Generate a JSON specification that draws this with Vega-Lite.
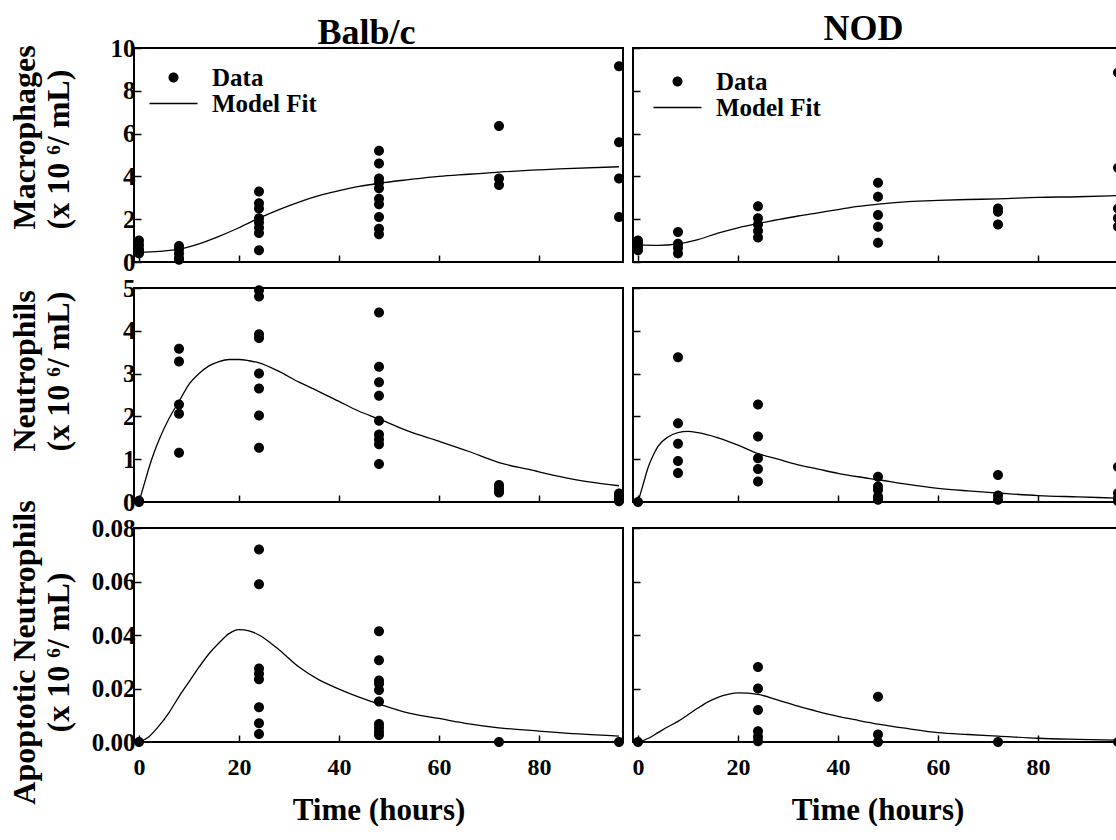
{
"$schema":"https://vega.github.io/schema/vega-lite/v6.json",
"background":"white",
"padding":{"left":6,"top":10,"right":0,"bottom":0},
"config":{
 "font":"Liberation Serif",
 "view":{"stroke":"black","strokeWidth":2},
 "axis":{"domain":false,"grid":false,"tickColor":"black","tickWidth":1.5,"tickSize":-7,"labelFont":"Liberation Serif","labelFontSize":25,"labelFontWeight":"bold","labelColor":"black","labelFlush":false,"labelOverlap":false,"titleFont":"Liberation Serif","titleFontWeight":"bold","titleColor":"black","titleFontSize":32},
 "title":{"font":"Liberation Serif","fontSize":36,"fontWeight":"bold","color":"black","baseline":"alphabetic","offset":9,"frame":"group"},
 "legend":{"orient":"none","title":null,"labelFont":"Liberation Serif","labelFontSize":25,"labelFontWeight":"bold","labelColor":"black","labelOffset":26,"rowPadding":-2,"padding":0,"symbolSize":400,"symbolStrokeColor":"black","symbolStrokeWidth":0,"symbolFillColor":"black","labelLimit":400}
},
"datasets":{
"pts":[
{"s":"B","c":"M","t":0,"v":1.0},{"s":"B","c":"M","t":0,"v":0.8},{"s":"B","c":"M","t":0,"v":0.6},{"s":"B","c":"M","t":0,"v":0.5},{"s":"B","c":"M","t":0,"v":0.4},
{"s":"B","c":"M","t":8,"v":0.75},{"s":"B","c":"M","t":8,"v":0.6},{"s":"B","c":"M","t":8,"v":0.4},{"s":"B","c":"M","t":8,"v":0.2},{"s":"B","c":"M","t":8,"v":0.1},
{"s":"B","c":"M","t":24,"v":3.3},{"s":"B","c":"M","t":24,"v":2.75},{"s":"B","c":"M","t":24,"v":2.5},{"s":"B","c":"M","t":24,"v":2.05},{"s":"B","c":"M","t":24,"v":1.85},{"s":"B","c":"M","t":24,"v":1.6},{"s":"B","c":"M","t":24,"v":1.35},{"s":"B","c":"M","t":24,"v":0.55},
{"s":"B","c":"M","t":48,"v":5.2},{"s":"B","c":"M","t":48,"v":4.6},{"s":"B","c":"M","t":48,"v":3.9},{"s":"B","c":"M","t":48,"v":3.7},{"s":"B","c":"M","t":48,"v":3.45},{"s":"B","c":"M","t":48,"v":2.95},{"s":"B","c":"M","t":48,"v":2.7},{"s":"B","c":"M","t":48,"v":2.1},{"s":"B","c":"M","t":48,"v":1.55},{"s":"B","c":"M","t":48,"v":1.3},
{"s":"B","c":"M","t":72,"v":6.35},{"s":"B","c":"M","t":72,"v":3.9},{"s":"B","c":"M","t":72,"v":3.6},
{"s":"B","c":"M","t":96,"v":9.15},{"s":"B","c":"M","t":96,"v":5.6},{"s":"B","c":"M","t":96,"v":3.9},{"s":"B","c":"M","t":96,"v":2.1},
{"s":"N","c":"M","t":0,"v":1.0},{"s":"N","c":"M","t":0,"v":0.85},{"s":"N","c":"M","t":0,"v":0.7},{"s":"N","c":"M","t":0,"v":0.55},
{"s":"N","c":"M","t":8,"v":1.4},{"s":"N","c":"M","t":8,"v":0.85},{"s":"N","c":"M","t":8,"v":0.65},{"s":"N","c":"M","t":8,"v":0.4},
{"s":"N","c":"M","t":24,"v":2.6},{"s":"N","c":"M","t":24,"v":2.05},{"s":"N","c":"M","t":24,"v":1.75},{"s":"N","c":"M","t":24,"v":1.45},{"s":"N","c":"M","t":24,"v":1.15},
{"s":"N","c":"M","t":48,"v":3.7},{"s":"N","c":"M","t":48,"v":3.05},{"s":"N","c":"M","t":48,"v":2.2},{"s":"N","c":"M","t":48,"v":1.65},{"s":"N","c":"M","t":48,"v":0.9},
{"s":"N","c":"M","t":72,"v":2.5},{"s":"N","c":"M","t":72,"v":2.35},{"s":"N","c":"M","t":72,"v":1.75},
{"s":"N","c":"M","t":96,"v":8.85},{"s":"N","c":"M","t":96,"v":4.4},{"s":"N","c":"M","t":96,"v":2.5},{"s":"N","c":"M","t":96,"v":2.05},{"s":"N","c":"M","t":96,"v":1.65},
{"s":"B","c":"N","t":0,"v":0.03},{"s":"B","c":"N","t":0,"v":0.0},
{"s":"B","c":"N","t":8,"v":3.58},{"s":"B","c":"N","t":8,"v":3.28},{"s":"B","c":"N","t":8,"v":2.28},{"s":"B","c":"N","t":8,"v":2.06},{"s":"B","c":"N","t":8,"v":1.15},
{"s":"B","c":"N","t":24,"v":4.95},{"s":"B","c":"N","t":24,"v":4.8},{"s":"B","c":"N","t":24,"v":3.92},{"s":"B","c":"N","t":24,"v":3.83},{"s":"B","c":"N","t":24,"v":3.0},{"s":"B","c":"N","t":24,"v":2.65},{"s":"B","c":"N","t":24,"v":2.02},{"s":"B","c":"N","t":24,"v":1.27},
{"s":"B","c":"N","t":48,"v":4.43},{"s":"B","c":"N","t":48,"v":3.16},{"s":"B","c":"N","t":48,"v":2.8},{"s":"B","c":"N","t":48,"v":2.48},{"s":"B","c":"N","t":48,"v":1.9},{"s":"B","c":"N","t":48,"v":1.58},{"s":"B","c":"N","t":48,"v":1.46},{"s":"B","c":"N","t":48,"v":1.35},{"s":"B","c":"N","t":48,"v":0.89},
{"s":"B","c":"N","t":72,"v":0.4},{"s":"B","c":"N","t":72,"v":0.33},{"s":"B","c":"N","t":72,"v":0.27},{"s":"B","c":"N","t":72,"v":0.22},
{"s":"B","c":"N","t":96,"v":0.2},{"s":"B","c":"N","t":96,"v":0.15},{"s":"B","c":"N","t":96,"v":0.1},{"s":"B","c":"N","t":96,"v":0.05},{"s":"B","c":"N","t":96,"v":0.02},
{"s":"N","c":"N","t":0,"v":0.0},
{"s":"N","c":"N","t":8,"v":3.38},{"s":"N","c":"N","t":8,"v":1.84},{"s":"N","c":"N","t":8,"v":1.36},{"s":"N","c":"N","t":8,"v":0.96},{"s":"N","c":"N","t":8,"v":0.68},
{"s":"N","c":"N","t":24,"v":2.28},{"s":"N","c":"N","t":24,"v":1.53},{"s":"N","c":"N","t":24,"v":1.02},{"s":"N","c":"N","t":24,"v":0.77},{"s":"N","c":"N","t":24,"v":0.48},
{"s":"N","c":"N","t":48,"v":0.59},{"s":"N","c":"N","t":48,"v":0.36},{"s":"N","c":"N","t":48,"v":0.28},{"s":"N","c":"N","t":48,"v":0.13},{"s":"N","c":"N","t":48,"v":0.05},
{"s":"N","c":"N","t":72,"v":0.63},{"s":"N","c":"N","t":72,"v":0.15},{"s":"N","c":"N","t":72,"v":0.05},
{"s":"N","c":"N","t":96,"v":0.82},{"s":"N","c":"N","t":96,"v":0.21},{"s":"N","c":"N","t":96,"v":0.09},{"s":"N","c":"N","t":96,"v":0.02},
{"s":"B","c":"A","t":0,"v":0.0},
{"s":"B","c":"A","t":24,"v":0.072},{"s":"B","c":"A","t":24,"v":0.059},{"s":"B","c":"A","t":24,"v":0.0275},{"s":"B","c":"A","t":24,"v":0.0255},{"s":"B","c":"A","t":24,"v":0.0235},{"s":"B","c":"A","t":24,"v":0.013},{"s":"B","c":"A","t":24,"v":0.007},{"s":"B","c":"A","t":24,"v":0.003},
{"s":"B","c":"A","t":48,"v":0.0414},{"s":"B","c":"A","t":48,"v":0.0306},{"s":"B","c":"A","t":48,"v":0.023},{"s":"B","c":"A","t":48,"v":0.0218},{"s":"B","c":"A","t":48,"v":0.0194},{"s":"B","c":"A","t":48,"v":0.0151},{"s":"B","c":"A","t":48,"v":0.0067},{"s":"B","c":"A","t":48,"v":0.0053},{"s":"B","c":"A","t":48,"v":0.0038},{"s":"B","c":"A","t":48,"v":0.0026},
{"s":"B","c":"A","t":72,"v":0.0},{"s":"B","c":"A","t":96,"v":0.0},
{"s":"N","c":"A","t":0,"v":0.0},
{"s":"N","c":"A","t":24,"v":0.028},{"s":"N","c":"A","t":24,"v":0.02},{"s":"N","c":"A","t":24,"v":0.012},{"s":"N","c":"A","t":24,"v":0.004},{"s":"N","c":"A","t":24,"v":0.002},{"s":"N","c":"A","t":24,"v":0.0003},
{"s":"N","c":"A","t":48,"v":0.0169},{"s":"N","c":"A","t":48,"v":0.0028},{"s":"N","c":"A","t":48,"v":0.0},
{"s":"N","c":"A","t":72,"v":0.0},{"s":"N","c":"A","t":96,"v":0.0}
],
"fit":[
{"s":"B","c":"M","t":0,"v":0.45},{"s":"B","c":"M","t":4,"v":0.5},{"s":"B","c":"M","t":8,"v":0.6},{"s":"B","c":"M","t":12,"v":0.85},{"s":"B","c":"M","t":16,"v":1.2},{"s":"B","c":"M","t":20,"v":1.6},{"s":"B","c":"M","t":24,"v":2.05},{"s":"B","c":"M","t":28,"v":2.45},{"s":"B","c":"M","t":32,"v":2.8},{"s":"B","c":"M","t":36,"v":3.1},{"s":"B","c":"M","t":40,"v":3.33},{"s":"B","c":"M","t":44,"v":3.53},{"s":"B","c":"M","t":48,"v":3.68},{"s":"B","c":"M","t":54,"v":3.85},{"s":"B","c":"M","t":60,"v":4.0},{"s":"B","c":"M","t":66,"v":4.1},{"s":"B","c":"M","t":72,"v":4.2},{"s":"B","c":"M","t":84,"v":4.35},{"s":"B","c":"M","t":96,"v":4.45},
{"s":"N","c":"M","t":0,"v":0.8},{"s":"N","c":"M","t":4,"v":0.78},{"s":"N","c":"M","t":8,"v":0.85},{"s":"N","c":"M","t":12,"v":1.05},{"s":"N","c":"M","t":16,"v":1.35},{"s":"N","c":"M","t":20,"v":1.6},{"s":"N","c":"M","t":24,"v":1.8},{"s":"N","c":"M","t":28,"v":1.98},{"s":"N","c":"M","t":32,"v":2.15},{"s":"N","c":"M","t":36,"v":2.3},{"s":"N","c":"M","t":40,"v":2.45},{"s":"N","c":"M","t":44,"v":2.6},{"s":"N","c":"M","t":48,"v":2.7},{"s":"N","c":"M","t":54,"v":2.82},{"s":"N","c":"M","t":60,"v":2.88},{"s":"N","c":"M","t":66,"v":2.92},{"s":"N","c":"M","t":72,"v":2.95},{"s":"N","c":"M","t":80,"v":3.02},{"s":"N","c":"M","t":88,"v":3.05},{"s":"N","c":"M","t":96,"v":3.1},
{"s":"B","c":"N","t":0,"v":0},{"s":"B","c":"N","t":1,"v":0.4},{"s":"B","c":"N","t":2,"v":0.8},{"s":"B","c":"N","t":3,"v":1.15},{"s":"B","c":"N","t":4,"v":1.45},{"s":"B","c":"N","t":6,"v":1.95},{"s":"B","c":"N","t":8,"v":2.35},{"s":"B","c":"N","t":10,"v":2.75},{"s":"B","c":"N","t":12,"v":3.0},{"s":"B","c":"N","t":14,"v":3.18},{"s":"B","c":"N","t":16,"v":3.28},{"s":"B","c":"N","t":18,"v":3.33},{"s":"B","c":"N","t":20,"v":3.33},{"s":"B","c":"N","t":22,"v":3.3},{"s":"B","c":"N","t":24,"v":3.25},{"s":"B","c":"N","t":28,"v":3.05},{"s":"B","c":"N","t":32,"v":2.8},{"s":"B","c":"N","t":36,"v":2.58},{"s":"B","c":"N","t":40,"v":2.35},{"s":"B","c":"N","t":44,"v":2.12},{"s":"B","c":"N","t":48,"v":1.94},{"s":"B","c":"N","t":54,"v":1.65},{"s":"B","c":"N","t":60,"v":1.42},{"s":"B","c":"N","t":66,"v":1.18},{"s":"B","c":"N","t":72,"v":0.92},{"s":"B","c":"N","t":78,"v":0.76},{"s":"B","c":"N","t":84,"v":0.6},{"s":"B","c":"N","t":90,"v":0.47},{"s":"B","c":"N","t":96,"v":0.38},
{"s":"N","c":"N","t":0,"v":0},{"s":"N","c":"N","t":1,"v":0.4},{"s":"N","c":"N","t":2,"v":0.8},{"s":"N","c":"N","t":3,"v":1.08},{"s":"N","c":"N","t":4,"v":1.3},{"s":"N","c":"N","t":6,"v":1.52},{"s":"N","c":"N","t":8,"v":1.62},{"s":"N","c":"N","t":10,"v":1.65},{"s":"N","c":"N","t":12,"v":1.62},{"s":"N","c":"N","t":16,"v":1.5},{"s":"N","c":"N","t":20,"v":1.33},{"s":"N","c":"N","t":24,"v":1.13},{"s":"N","c":"N","t":28,"v":1.0},{"s":"N","c":"N","t":32,"v":0.87},{"s":"N","c":"N","t":36,"v":0.77},{"s":"N","c":"N","t":40,"v":0.67},{"s":"N","c":"N","t":44,"v":0.59},{"s":"N","c":"N","t":48,"v":0.52},{"s":"N","c":"N","t":54,"v":0.41},{"s":"N","c":"N","t":60,"v":0.32},{"s":"N","c":"N","t":66,"v":0.26},{"s":"N","c":"N","t":72,"v":0.21},{"s":"N","c":"N","t":80,"v":0.15},{"s":"N","c":"N","t":88,"v":0.12},{"s":"N","c":"N","t":96,"v":0.09},
{"s":"B","c":"A","t":0,"v":0},{"s":"B","c":"A","t":2,"v":0.002},{"s":"B","c":"A","t":4,"v":0.006},{"s":"B","c":"A","t":6,"v":0.011},{"s":"B","c":"A","t":8,"v":0.017},{"s":"B","c":"A","t":10,"v":0.0225},{"s":"B","c":"A","t":12,"v":0.028},{"s":"B","c":"A","t":14,"v":0.033},{"s":"B","c":"A","t":16,"v":0.037},{"s":"B","c":"A","t":18,"v":0.0405},{"s":"B","c":"A","t":20,"v":0.042},{"s":"B","c":"A","t":22,"v":0.0415},{"s":"B","c":"A","t":24,"v":0.04},{"s":"B","c":"A","t":26,"v":0.0375},{"s":"B","c":"A","t":28,"v":0.0345},{"s":"B","c":"A","t":32,"v":0.028},{"s":"B","c":"A","t":36,"v":0.0232},{"s":"B","c":"A","t":40,"v":0.0198},{"s":"B","c":"A","t":44,"v":0.0168},{"s":"B","c":"A","t":48,"v":0.0142},{"s":"B","c":"A","t":54,"v":0.0108},{"s":"B","c":"A","t":60,"v":0.0088},{"s":"B","c":"A","t":66,"v":0.0068},{"s":"B","c":"A","t":72,"v":0.0053},{"s":"B","c":"A","t":80,"v":0.0041},{"s":"B","c":"A","t":88,"v":0.003},{"s":"B","c":"A","t":96,"v":0.0022},
{"s":"N","c":"A","t":0,"v":0},{"s":"N","c":"A","t":2,"v":0.0013},{"s":"N","c":"A","t":4,"v":0.0035},{"s":"N","c":"A","t":6,"v":0.0057},{"s":"N","c":"A","t":8,"v":0.0077},{"s":"N","c":"A","t":10,"v":0.0102},{"s":"N","c":"A","t":12,"v":0.0127},{"s":"N","c":"A","t":14,"v":0.015},{"s":"N","c":"A","t":16,"v":0.0167},{"s":"N","c":"A","t":18,"v":0.0178},{"s":"N","c":"A","t":20,"v":0.0184},{"s":"N","c":"A","t":22,"v":0.0183},{"s":"N","c":"A","t":24,"v":0.0178},{"s":"N","c":"A","t":28,"v":0.0157},{"s":"N","c":"A","t":32,"v":0.0134},{"s":"N","c":"A","t":36,"v":0.0114},{"s":"N","c":"A","t":40,"v":0.0096},{"s":"N","c":"A","t":44,"v":0.0081},{"s":"N","c":"A","t":48,"v":0.0067},{"s":"N","c":"A","t":54,"v":0.005},{"s":"N","c":"A","t":60,"v":0.0035},{"s":"N","c":"A","t":66,"v":0.0028},{"s":"N","c":"A","t":72,"v":0.0022},{"s":"N","c":"A","t":80,"v":0.0014},{"s":"N","c":"A","t":88,"v":0.001},{"s":"N","c":"A","t":96,"v":0.0007}
]
},
"columns":2,
"spacing":{"row":26,"column":10},
"bounds":"flush",
"resolve":{"scale":{"shape":"independent"},"legend":{"shape":"independent"}},
"concat":[
{
 "width":489,"height":214,
 "title":{"text":"Balb/c","dx":-12,"dy":25},
 "encoding":{
  "x":{"field":"t","type":"quantitative","scale":{"domain":[-1,96.8],"nice":false,"zero":false},"axis":{"values":[0,20,40,60,80],"labels":false,"title":null}},
  "y":{"field":"v","type":"quantitative","scale":{"domain":[0,10],"nice":false},"axis":{"values":[0,2,4,6,8,10],"format":"d","labelFont":"Liberation Serif","labelFontSize":25,"labelFontWeight":"bold","labelPadding":6,"title":["Macrophages","(x 10 ⁶/ mL)"],"titleFont":"Liberation Serif","titleFontSize":32,"titleFontWeight":"bold","titleAngle":-90,"titleAlign":"left","titleBaseline":"bottom","titleLineHeight":34,"titleX":-93,"titleY":181}}
 },
 "layer":[
  {"data":{"name":"fit"},"transform":[{"filter":"datum.s=='B'&&datum.c=='M'"}],"mark":{"type":"line","color":"black","strokeWidth":1.3,"interpolate":"monotone"}},
  {"data":{"name":"pts"},"transform":[{"filter":"datum.s=='B'&&datum.c=='M'"}],"mark":{"type":"point","filled":true,"color":"black","opacity":1,"size":400},
   "encoding":{"shape":{"datum":"Data","scale":{"domain":["Data","Model Fit"],"range":["M0,-0.5A0.5,0.5,0,1,1,0,0.5A0.5,0.5,0,1,1,0,-0.5Z","M-2.4,-0.065H2.4V0.065H-2.4Z"]},"legend":{"legendX":27,"legendY":17,"encode":{"symbols":{"update":{"fill":{"value":"black"},"fillOpacity":{"value":1},"opacity":{"value":1}}}}}}}}
 ]
},
{
 "width":489,"height":214,
 "title":{"text":"NOD","dx":-14,"dy":10},
 "encoding":{
  "x":{"field":"t","type":"quantitative","scale":{"domain":[-1,96.8],"nice":false,"zero":false},"axis":{"values":[0,20,40,60,80],"labels":false,"title":null}},
  "y":{"field":"v","type":"quantitative","scale":{"domain":[0,10],"nice":false},"axis":{"values":[0,2,4,6,8,10],"labels":false,"title":null}}
 },
 "layer":[
  {"data":{"name":"fit"},"transform":[{"filter":"datum.s=='N'&&datum.c=='M'"}],"mark":{"type":"line","color":"black","strokeWidth":1.3,"interpolate":"monotone"}},
  {"data":{"name":"pts"},"transform":[{"filter":"datum.s=='N'&&datum.c=='M'"}],"mark":{"type":"point","filled":true,"color":"black","opacity":1,"size":400},
   "encoding":{"shape":{"datum":"Data","scale":{"domain":["Data","Model Fit"],"range":["M0,-0.5A0.5,0.5,0,1,1,0,0.5A0.5,0.5,0,1,1,0,-0.5Z","M-2.4,-0.065H2.4V0.065H-2.4Z"]},"legend":{"legendX":32,"legendY":21,"encode":{"symbols":{"update":{"fill":{"value":"black"},"fillOpacity":{"value":1},"opacity":{"value":1}}}}}}}}
 ]
},
{
 "width":489,"height":214,
 "encoding":{
  "x":{"field":"t","type":"quantitative","scale":{"domain":[-1,96.8],"nice":false,"zero":false},"axis":{"values":[0,20,40,60,80],"labels":false,"title":null}},
  "y":{"field":"v","type":"quantitative","scale":{"domain":[0,5],"nice":false},"axis":{"values":[0,1,2,3,4,5],"format":"d","labelFont":"Liberation Serif","labelFontSize":25,"labelFontWeight":"bold","labelPadding":6,"title":["Neutrophils","(x 10 ⁶/ mL)"],"titleFont":"Liberation Serif","titleFontSize":32,"titleFontWeight":"bold","titleAngle":-90,"titleAlign":"left","titleBaseline":"bottom","titleLineHeight":34,"titleX":-93,"titleY":163}}
 },
 "layer":[
  {"data":{"name":"fit"},"transform":[{"filter":"datum.s=='B'&&datum.c=='N'"}],"mark":{"type":"line","color":"black","strokeWidth":1.3,"interpolate":"monotone"}},
  {"data":{"name":"pts"},"transform":[{"filter":"datum.s=='B'&&datum.c=='N'"}],"mark":{"type":"point","filled":true,"color":"black","opacity":1,"size":400,"shape":"M0,-0.5A0.5,0.5,0,1,1,0,0.5A0.5,0.5,0,1,1,0,-0.5Z"}}
 ]
},
{
 "width":489,"height":214,
 "encoding":{
  "x":{"field":"t","type":"quantitative","scale":{"domain":[-1,96.8],"nice":false,"zero":false},"axis":{"values":[0,20,40,60,80],"labels":false,"title":null}},
  "y":{"field":"v","type":"quantitative","scale":{"domain":[0,5],"nice":false},"axis":{"values":[0,1,2,3,4,5],"labels":false,"title":null}}
 },
 "layer":[
  {"data":{"name":"fit"},"transform":[{"filter":"datum.s=='N'&&datum.c=='N'"}],"mark":{"type":"line","color":"black","strokeWidth":1.3,"interpolate":"monotone"}},
  {"data":{"name":"pts"},"transform":[{"filter":"datum.s=='N'&&datum.c=='N'"}],"mark":{"type":"point","filled":true,"color":"black","opacity":1,"size":400,"shape":"M0,-0.5A0.5,0.5,0,1,1,0,0.5A0.5,0.5,0,1,1,0,-0.5Z"}}
 ]
},
{
 "width":489,"height":214,
 "encoding":{
  "x":{"field":"t","type":"quantitative","scale":{"domain":[-1,96.8],"nice":false,"zero":false},"axis":{"values":[0,20,40,60,80],"labelFont":"Liberation Serif","labelFontSize":24,"labelFontWeight":"bold","labelPadding":20,"title":"Time (hours)","titleFont":"Liberation Serif","titleFontSize":31,"titleFontWeight":"bold","titlePadding":16}},
  "y":{"field":"v","type":"quantitative","scale":{"domain":[0,0.08],"nice":false},"axis":{"values":[0,0.02,0.04,0.06,0.08],"format":".2f","labelFont":"Liberation Serif","labelFontSize":25,"labelFontWeight":"bold","labelPadding":6,"title":["Apoptotic Neutrophils","(x 10 ⁶/ mL)"],"titleFont":"Liberation Serif","titleFontSize":32,"titleFontWeight":"bold","titleAngle":-90,"titleAlign":"center","titleBaseline":"bottom","titleLineHeight":34,"titleX":-93,"titleY":124}}
 },
 "layer":[
  {"data":{"name":"fit"},"transform":[{"filter":"datum.s=='B'&&datum.c=='A'"}],"mark":{"type":"line","color":"black","strokeWidth":1.3,"interpolate":"monotone"}},
  {"data":{"name":"pts"},"transform":[{"filter":"datum.s=='B'&&datum.c=='A'"}],"mark":{"type":"point","filled":true,"color":"black","opacity":1,"size":400,"shape":"M0,-0.5A0.5,0.5,0,1,1,0,0.5A0.5,0.5,0,1,1,0,-0.5Z"}}
 ]
},
{
 "width":489,"height":214,
 "encoding":{
  "x":{"field":"t","type":"quantitative","scale":{"domain":[-1,96.8],"nice":false,"zero":false},"axis":{"values":[0,20,40,60,80],"labelFont":"Liberation Serif","labelFontSize":24,"labelFontWeight":"bold","labelPadding":20,"title":"Time (hours)","titleFont":"Liberation Serif","titleFontSize":31,"titleFontWeight":"bold","titlePadding":16}},
  "y":{"field":"v","type":"quantitative","scale":{"domain":[0,0.08],"nice":false},"axis":{"values":[0,0.02,0.04,0.06,0.08],"labels":false,"title":null}}
 },
 "layer":[
  {"data":{"name":"fit"},"transform":[{"filter":"datum.s=='N'&&datum.c=='A'"}],"mark":{"type":"line","color":"black","strokeWidth":1.3,"interpolate":"monotone"}},
  {"data":{"name":"pts"},"transform":[{"filter":"datum.s=='N'&&datum.c=='A'"}],"mark":{"type":"point","filled":true,"color":"black","opacity":1,"size":400,"shape":"M0,-0.5A0.5,0.5,0,1,1,0,0.5A0.5,0.5,0,1,1,0,-0.5Z"}}
 ]
}
]
}
